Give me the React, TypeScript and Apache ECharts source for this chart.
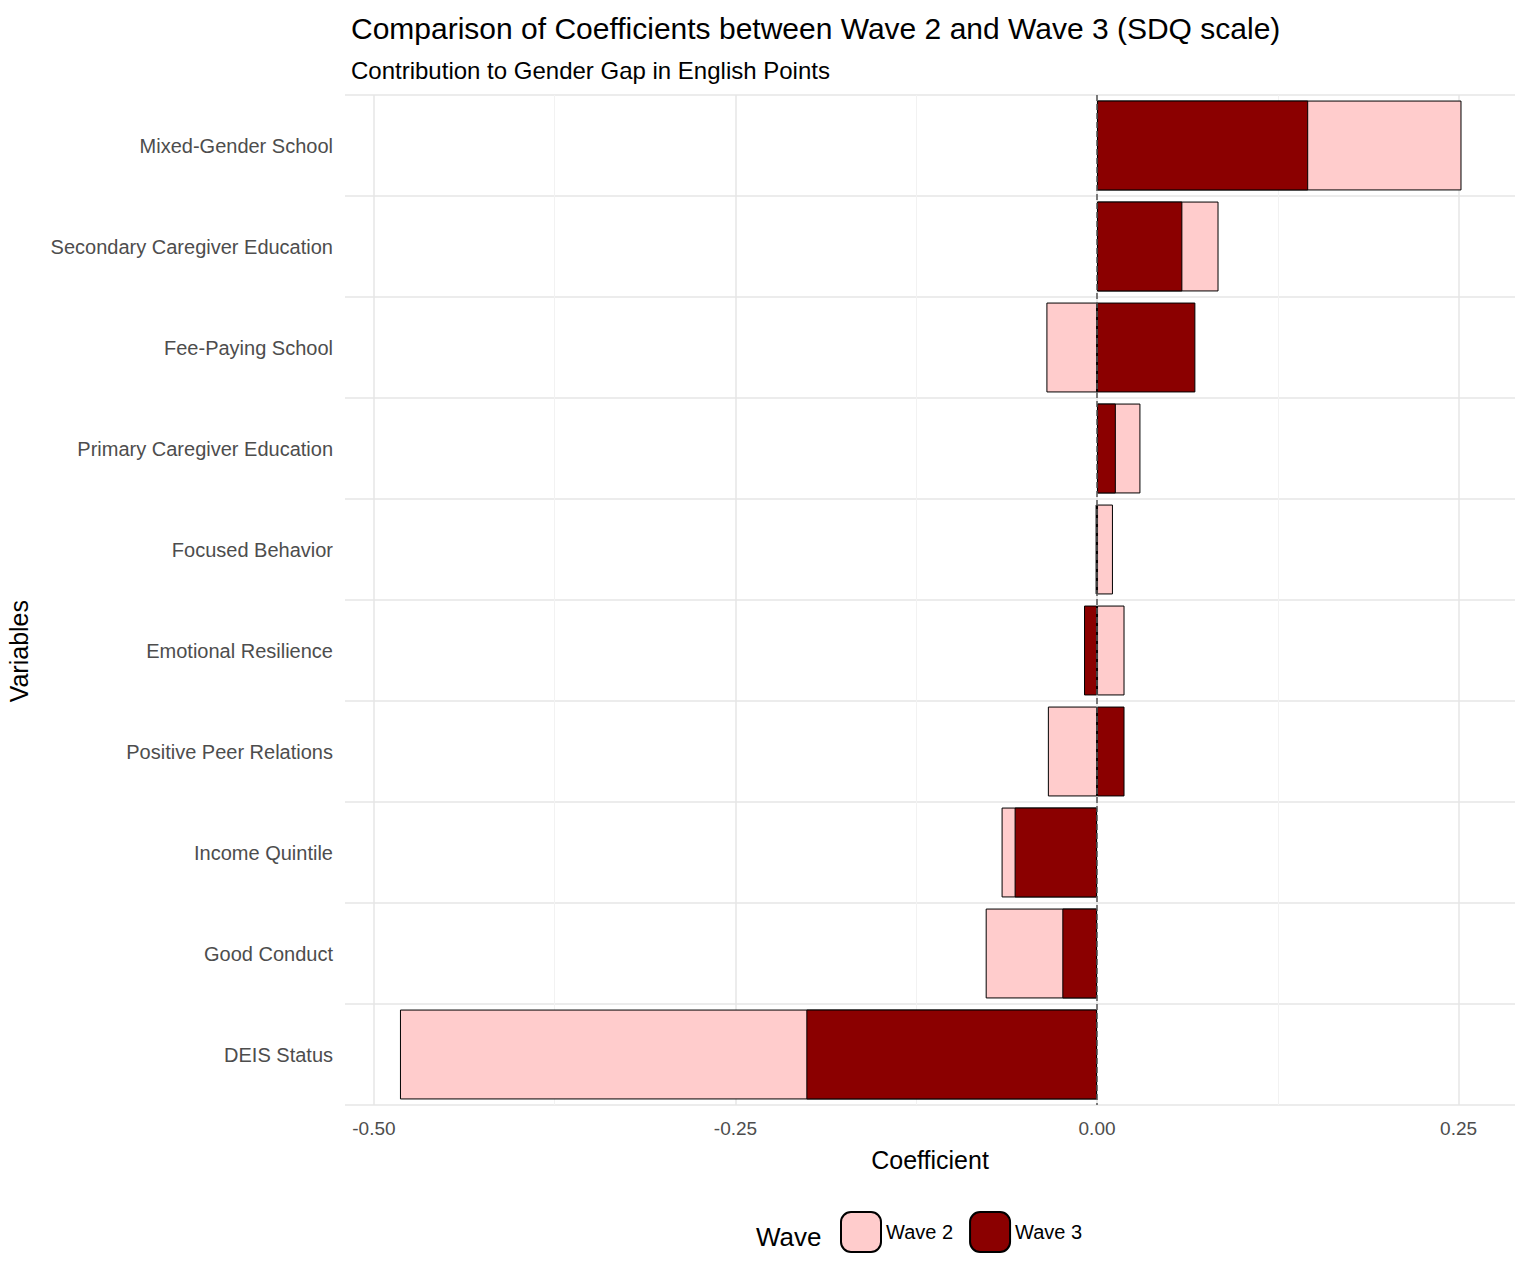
import React, { useEffect, useRef } from "react";
import * as echarts from "echarts";

const categories = ["Mixed-Gender School","Secondary Caregiver Education","Fee-Paying School","Primary Caregiver Education","Focused Behavior","Emotional Resilience","Positive Peer Relations","Income Quintile","Good Conduct","DEIS Status"];
const wave2 = [0.252,0.084,-0.035,0.030,0.011,0.019,-0.034,-0.066,-0.077,-0.482];
const wave3 = [0.146,0.059,0.068,0.013,-0.001,-0.009,0.019,-0.057,-0.024,-0.201];
const majorTicks = [-0.5,-0.25,0,0.25];
const minorTicks = [-0.375,-0.125,0.125];

export default function App() {
  const ref = useRef<HTMLDivElement>(null);
  useEffect(() => {
    const chart = echarts.init(ref.current!, null, { renderer: "svg" });
    const font = "Liberation Sans, Arial, sans-serif";
    chart.setOption({
      animation: false,
      textStyle: { fontFamily: font },
      title: [
        { text: "Comparison of Coefficients between Wave 2 and Wave 3 (SDQ scale)", left: 346, top: 8, textStyle: { fontSize: 30, fontWeight: "normal", color: "#000", fontFamily: font } },
        { text: "Contribution to Gender Gap in English Points", left: 346, top: 53, textStyle: { fontSize: 24, fontWeight: "normal", color: "#000", fontFamily: font } },
      ],
      grid: { left: 345, right: 4, top: 95, bottom: 167 },
      legend: {
        data: ["Wave 2", "Wave 3"], bottom: 14, left: 835, itemWidth: 40, itemHeight: 40, itemGap: 16,
        textStyle: { fontSize: 20, color: "#000", fontFamily: font },
      },
      graphic: [
        { type: "text", left: 756, top: 1224, style: { text: "Wave", fontSize: 26, fill: "#000", fontFamily: font } },
        { type: "text", left: 6, top: 600, rotation: Math.PI / 2, style: { text: "Variables", fontSize: 25, fill: "#000", fontFamily: font, align: "center", verticalAlign: "middle" } },
      ],
      xAxis: [
        {
          type: "value", min: -0.52, max: 0.289,
          name: "Coefficient", nameLocation: "middle", nameGap: 42,
          nameTextStyle: { fontSize: 25, color: "#000", fontFamily: font },
          axisLine: { show: false }, axisTick: { show: false, customValues: majorTicks },
          axisLabel: { customValues: majorTicks, fontSize: 19, color: "#4d4d4d", margin: 14,
            formatter: (v: number) => v.toFixed(2) },
          splitLine: { show: true, lineStyle: { color: "#e6e6e6", width: 1.5 } },
        },
        {
          type: "value", min: -0.52, max: 0.289, position: "bottom",
          axisLine: { show: false }, axisTick: { show: false, customValues: minorTicks },
          axisLabel: { show: false, customValues: minorTicks },
          splitLine: { show: true, lineStyle: { color: "#f2f2f2", width: 1 } },
        },
      ],
      yAxis: {
        type: "category", data: categories, inverse: true,
        axisLine: { show: false }, axisTick: { show: false },
        axisLabel: { fontSize: 20, color: "#4d4d4d", margin: 12 },
        splitLine: { show: true, lineStyle: { color: "#e6e6e6", width: 1.5 } },
        splitArea: { show: false },
      },
      series: [
        {
          name: "Wave 2", type: "bar", data: wave2, barGap: "-100%", barCategoryGap: "11%",
          itemStyle: { color: "#ffcccc", borderColor: "#000", borderWidth: 1 },
        },
        {
          name: "Wave 3", type: "bar", data: wave3, barCategoryGap: "11%",
          itemStyle: { color: "#8b0000", borderColor: "#000", borderWidth: 1 },
          markLine: {
            symbol: "none", silent: true, label: { show: false },
            lineStyle: { color: "#555", type: "dashed", width: 1.5 },
            data: [{ xAxis: 0 }],
          },
        },
      ],
    });
    return () => chart.dispose();
  }, []);
  return <div ref={ref} style={{ position: "fixed", left: 0, top: 0, width: 1519, height: 1272, background: "#fff" }} />;
}
